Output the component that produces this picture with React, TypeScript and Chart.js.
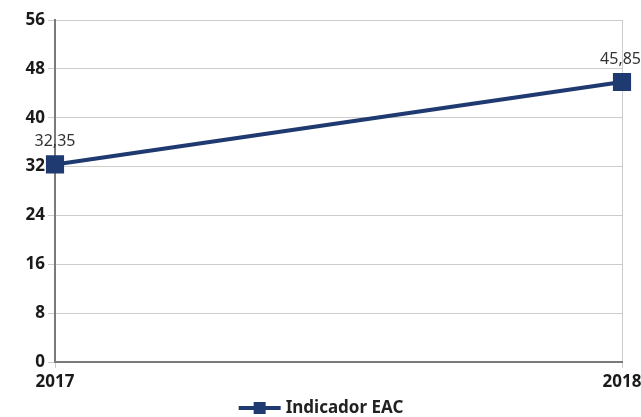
import React, { useEffect, useRef } from "react";
import { Chart, registerables } from "chart.js";
Chart.register(...registerables);

const categories = ["2017", "2018"];
const seriesName = "Indicador EAC";
const values = [32.35, 45.85];
const valueLabels = ["32,35", "45,85"];
const yTicks = [0, 8, 16, 24, 32, 40, 48, 56];

const LINE = "#1f3a70";
const FONT = "'Noto Sans', 'Open Sans', sans-serif";

export default function App() {
  const ref = useRef<HTMLCanvasElement | null>(null);
  useEffect(() => {
    document.body.style.margin = "0";
    const ctx = ref.current!.getContext("2d")!;
    const labelsPlugin = {
      id: "labels",
      afterDatasetsDraw(chart: any) {
        const c = chart.ctx;
        const meta = chart.getDatasetMeta(0);
        c.save();
        c.font = `400 16px ${FONT}`;
        c.fillStyle = "#333333";
        c.textAlign = "center";
        c.textBaseline = "alphabetic";
        meta.data.forEach((pt: any, i: number) => {
          let x = pt.x;
          const w = c.measureText(valueLabels[i]).width;
          if (x + w / 2 > chart.width) x = chart.width - w / 2;
          c.fillText(valueLabels[i], x, pt.y - 18);
        });
        // legend
        const ly = 408;
        c.font = `700 17px ${FONT}`;
        const tw = c.measureText(seriesName).width;
        const total = 42 + 6 + tw;
        const lx = (chart.width - total) / 2 + 1;
        c.strokeStyle = LINE;
        c.lineWidth = 4;
        c.beginPath();
        c.moveTo(lx, ly);
        c.lineTo(lx + 42, ly);
        c.stroke();
        c.fillStyle = LINE;
        c.fillRect(lx + 21 - 6, ly - 6, 12, 12);
        c.fillStyle = "#222222";
        c.textAlign = "left";
        c.textBaseline = "middle";
        c.fillText(seriesName, lx + 47, ly);
        c.restore();
      },
    };
    const chart = new Chart(ctx, {
      type: "line",
      data: {
        labels: categories,
        datasets: [
          {
            label: seriesName,
            data: values,
            borderColor: LINE,
            backgroundColor: LINE,
            borderWidth: 4,
            pointStyle: "rect",
            pointRadius: 10,
            pointHoverRadius: 10,
            tension: 0,
          },
        ],
      },
      options: {
        animation: false,
        responsive: false,
        layout: { padding: { top: 20, right: 19, left: 0, bottom: 0 } },
        plugins: { legend: { display: false }, tooltip: { enabled: false } },
        scales: {
          x: {
            offset: false,
            afterFit: (s: any) => {
              s.height = 417 - 362;
              s.paddingLeft = 0;
              s.paddingRight = 0;
            },
            grid: {
              color: "#cccccc",
              lineWidth: 1,
              tickLength: 6,
              drawOnChartArea: true,
            },
            border: { color: "#7a7a7a", width: 2 },
            ticks: {
              color: "#1a1a1a",
              font: { family: FONT, size: 17, weight: "bold" },
              padding: 4,
              maxRotation: 0,
            },
          },
          y: {
            min: 0,
            max: 56,
            afterFit: (s: any) => {
              s.width = 55;
              s.paddingTop = 0;
              s.paddingBottom = 0;
            },
            afterBuildTicks: (s: any) => {
              s.ticks = yTicks.map((v) => ({ value: v }));
            },
            grid: { color: "#cccccc", lineWidth: 1, tickLength: 7 },
            border: { color: "#7a7a7a", width: 2 },
            ticks: {
              color: "#1a1a1a",
              font: { family: FONT, size: 17, weight: "bold" },
              padding: 3,
            },
          },
        },
      },
      plugins: [labelsPlugin],
    });
    return () => chart.destroy();
  }, []);
  return (
    <div style={{ position: "absolute", left: 0, top: 0, width: 641, height: 417 }}>
      <canvas ref={ref} width={641} height={417} style={{ width: 641, height: 417 }} />
    </div>
  );
}
